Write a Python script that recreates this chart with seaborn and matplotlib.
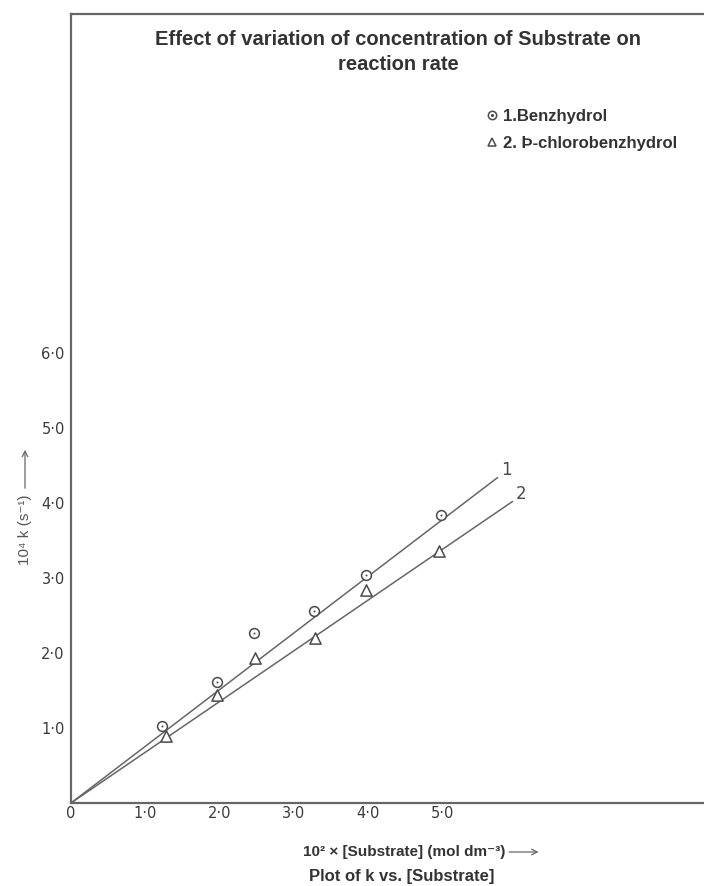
import pandas as pd
import matplotlib.pyplot as plt
import seaborn as sns
from matplotlib.lines import Line2D
from matplotlib.legend_handler import HandlerTuple

# Substrate concentration (10^2 x [S], mol dm^-3) and rate constants (10^4 k, s^-1)
benz_x = [1.22, 1.97, 2.46, 3.27, 3.97, 4.99]
benz_k = [1.03, 1.62, 2.27, 2.56, 3.04, 3.84]
chloro_x = [1.28, 1.97, 2.48, 3.29, 3.98, 4.96]
chloro_k = [0.89, 1.44, 1.93, 2.20, 2.84, 3.36]

# hand-drawn best fit lines from the origin to their labelled ends
line_names = ['1', '2']
line_end_x = [5.75, 5.95]
line_end_y = [4.34, 4.02]

x_ticks = [0, 1, 2, 3, 4, 5]
x_tick_labels = ['0', '1·0', '2·0', '3·0', '4·0', '5·0']
y_ticks = [1, 2, 3, 4, 5, 6]
y_tick_labels = ['1·0', '2·0', '3·0', '4·0', '5·0', '6·0']
series_labels = ['1.Benzhydrol', '2. Þ-chlorobenzhydrol']

benz = pd.DataFrame({'x': benz_x, 'k': benz_k})
chloro = pd.DataFrame({'x': chloro_x, 'k': chloro_k})

sns.set_style('white')
plt.rcParams['font.family'] = ['Liberation Sans', 'DejaVu Sans']

W, H = 704, 886
ink = '#4a4a4a'
text_col = '#3a3a3a'
fig = plt.figure(figsize=(W / 100, H / 100), dpi=100)
# axes: left spine at x=71 px, bottom at y=803 px, top frame at y=14 px
ax = fig.add_axes([71 / W, (H - 803) / H, (W - 71) / W, 789 / H])

for name, ex, ey in zip(line_names, line_end_x, line_end_y):
    sns.lineplot(x=[0, ex], y=[0, ey], ax=ax, color='#666666', lw=1.1)
    ax.text(ex + 0.05, ey - 0.02, name, fontsize=12, color=ink,
            family='DejaVu Sans', ha='left', va='bottom')

sns.scatterplot(data=benz, x='x', y='k', ax=ax, marker='o', s=50,
                facecolor='white', edgecolor=ink, linewidth=1.1, zorder=3)
sns.scatterplot(data=benz, x='x', y='k', ax=ax, marker='.', s=8,
                color=ink, linewidth=0, zorder=4)
sns.scatterplot(data=chloro, x='x', y='k', ax=ax, marker='^', s=65,
                facecolor='white', edgecolor=ink, linewidth=1.1, zorder=3)

ax.set_xlim(0, (W - 71) / 74.2)
ax.set_ylim(0, 789 / 75)
ax.set_xticks(x_ticks)
ax.set_xticklabels(x_tick_labels)
ax.set_yticks(y_ticks)
ax.set_yticklabels(y_tick_labels)
ax.tick_params(axis='both', direction='inout', length=9, width=1.1,
               color='#555555', labelcolor=text_col, labelsize=10.5)
ax.tick_params(axis='x', pad=-2)
ax.tick_params(axis='y', pad=0)
for lab in ax.get_xticklabels() + ax.get_yticklabels():
    lab.set_family('DejaVu Sans')

for side in ['left', 'bottom', 'top']:
    ax.spines[side].set_color('#666666')
    ax.spines[side].set_linewidth(1.6)
ax.spines['right'].set_visible(False)
ax.set_xlabel('')
ax.set_ylabel('')

# title
fig.text(398 / W, 1 - 52 / H,
         'Effect of variation of concentration of Substrate on\nreaction rate',
         ha='center', va='center', multialignment='center', fontsize=14.5,
         fontweight='bold', color='#333333', linespacing=1.45)

# y axis label with arrow
fig.text(25 / W, 1 - 530 / H, '10⁴ k (s⁻¹)', rotation=90, ha='center',
         va='center', fontsize=11, color='#555555')
ax.annotate('', xy=(25 / W, 1 - 447 / H), xytext=(25 / W, 1 - 491 / H),
            xycoords='figure fraction',
            arrowprops=dict(arrowstyle='->', color='#666666', lw=0.9))

# x axis label with arrow right after it, and caption
xl = fig.text(303 / W, 1 - 852 / H, '10² × [Substrate] (mol dm⁻³)',
              ha='left', va='center', fontsize=11, fontweight='bold',
              color='#333333')
fig.text(309 / W, 1 - 877 / H, 'Plot of k vs. [Substrate]',
         ha='left', va='center', fontsize=12, fontweight='bold', color='#333333')
fig.canvas.draw()
x_end = xl.get_window_extent().x1
ax.annotate('', xy=((x_end + 36) / W, 1 - 852 / H),
            xytext=((x_end + 1) / W, 1 - 852 / H),
            xycoords='figure fraction',
            arrowprops=dict(arrowstyle='->', color='#666666', lw=0.9))

# legend: dotted circle and open triangle
circ = Line2D([], [], ls='', marker='o', ms=6, mfc='white', mec=ink, mew=1.1)
dot = Line2D([], [], ls='', marker='.', ms=2.5, color=ink)
tri = Line2D([], [], ls='', marker='^', ms=6, mfc='white', mec=ink, mew=1.1)
leg = ax.legend([(circ, dot), tri], series_labels,
                handler_map={tuple: HandlerTuple(ndivide=1, pad=0)},
                loc='upper left',
                bbox_to_anchor=((470 - 71) / 633, (803 - 94) / 789),
                frameon=False, handletextpad=0.3, labelspacing=0.7,
                handlelength=0.8, prop={'weight': 'bold', 'size': 12})
for t in leg.get_texts():
    t.set_color('#333333')

fig.savefig('out.png', dpi=100, facecolor='white')
